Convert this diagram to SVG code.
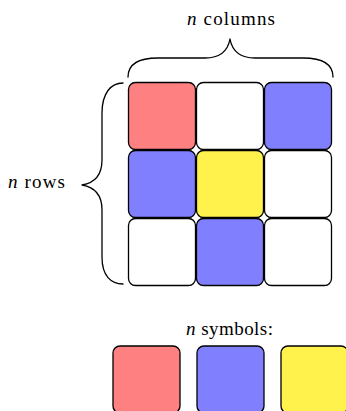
<svg xmlns="http://www.w3.org/2000/svg" width="346" height="411" viewBox="0 0 346 411">
  <style>
    .cell { stroke: #000; stroke-width: 1.3; }
    .red { fill: #FF8080; }
    .blue { fill: #8080FF; }
    .yellow { fill: #FFF24C; }
    .white { fill: #FFFFFF; }
    .brace { fill: none; stroke: #000; stroke-width: 1.3; stroke-linecap: round; stroke-linejoin: round; }
    .lbl { font-family: "Liberation Serif", "DejaVu Serif", serif; font-size: 19px; fill: #000; }
    .var { font-style: italic; }
  </style>
  <rect width="346" height="411" fill="#FFFFFF"/>

  <!-- 3x3 grid of cells -->
  <g id="grid">
    <g id="cell-1-1"><rect class="cell red" x="128.5" y="82.5" width="67" height="67" rx="7"/></g>
    <g id="cell-1-2"><rect class="cell white" x="196.5" y="82.5" width="67" height="67" rx="7"/></g>
    <g id="cell-1-3"><rect class="cell blue" x="264.5" y="82.5" width="67" height="67" rx="7"/></g>
    <g id="cell-2-1"><rect class="cell blue" x="128.5" y="150.5" width="67" height="67" rx="7"/></g>
    <g id="cell-2-2"><rect class="cell yellow" x="196.5" y="150.5" width="67" height="67" rx="7"/></g>
    <g id="cell-2-3"><rect class="cell white" x="264.5" y="150.5" width="67" height="67" rx="7"/></g>
    <g id="cell-3-1"><rect class="cell white" x="128.5" y="218.5" width="67" height="67" rx="7"/></g>
    <g id="cell-3-2"><rect class="cell blue" x="196.5" y="218.5" width="67" height="67" rx="7"/></g>
    <g id="cell-3-3"><rect class="cell white" x="264.5" y="218.5" width="67" height="67" rx="7"/></g>
  </g>

  <!-- braces -->
  <g id="braces">
    <path class="brace" d="M128,77 C128,65 138,58 158,58 L205,58 C221,58 228,50 230,39 C232,50 239,58 255,58 L303,58 C323,58 333,65 333,77"/>
    <path class="brace" d="M123,83 C111,83 102,93 102,113 L102,160 C102,176 94,183 82,185 C94,187 102,194 102,210 L102,257 C102,276 111,284 123,284"/>
  </g>

  <!-- labels -->
  <g id="label-columns">
    <text class="lbl" x="187" y="25" textLength="88" lengthAdjust="spacing"><tspan class="var">n</tspan> columns</text>
  </g>
  <g id="label-rows">
    <text class="lbl" x="8" y="188" textLength="57" lengthAdjust="spacing"><tspan class="var">n</tspan> rows</text>
  </g>
  <g id="label-symbols">
    <text class="lbl" x="186" y="335" textLength="87" lengthAdjust="spacing"><tspan class="var">n</tspan> symbols:</text>
  </g>

  <!-- symbol palette -->
  <g id="symbol-red"><rect class="cell red" x="113" y="346" width="67" height="67" rx="7"/></g>
  <g id="symbol-blue"><rect class="cell blue" x="197" y="346" width="67" height="67" rx="7"/></g>
  <g id="symbol-yellow"><rect class="cell yellow" x="281" y="346" width="67" height="67" rx="7"/></g>
</svg>
